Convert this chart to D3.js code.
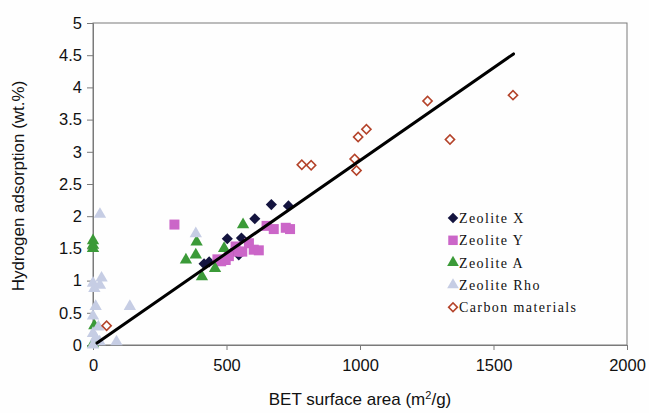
<!DOCTYPE html>
<html>
<head>
<meta charset="utf-8">
<script src="https://cdn.jsdelivr.net/npm/d3@7"></script>
<style>
  body { margin: 0; background: #fefefe; }
  svg { display: block; }
</style>
</head>
<body>
<div id="chart"></div>
<script>
const canvas = { w: 649, h: 413 };
const plot = { left: 93, right: 627, top: 23, bottom: 345 };

// BET surface area (m2/g), hydrogen adsorption (wt.%)
const zeoliteX = [[416, 1.26], [435, 1.29], [503, 1.65], [516, 1.42], [546, 1.40],
  [556, 1.66], [606, 1.96], [668, 2.18], [732, 2.16]];
const zeoliteY = [[305, 1.87], [466, 1.33], [480, 1.30], [497, 1.32], [509, 1.38],
  [534, 1.53], [545, 1.45], [559, 1.45], [584, 1.58], [602, 1.48], [621, 1.47],
  [650, 1.85], [677, 1.80], [722, 1.82], [738, 1.80]];
const zeoliteA = [[0, 0.02], [5, 0.30], [0, 1.50], [0, 1.55], [0, 1.62], [348, 1.32],
  [385, 1.40], [388, 1.60], [408, 1.06], [457, 1.19], [491, 1.50], [562, 1.87]];
const zeoliteRho = [[26, 2.03], [385, 1.73], [0, 0.96], [5, 0.88], [26, 0.93], [32, 1.04],
  [10, 0.60], [138, 0.60], [0, 0.45], [20, 0.28], [10, 0.11], [0, 0.18], [25, 0.05],
  [0, 0.00], [88, 0.05]];
const carbon = [[51, 0.30], [782, 2.80], [817, 2.79], [980, 2.89], [987, 2.71],
  [993, 3.23], [1024, 3.35], [1253, 3.79], [1337, 3.19], [1573, 3.88]];
const fitLine = [[15, 0.03], [1575, 4.52]];

const xTicks = [0, 500, 1000, 1500, 2000];
const yTicks = [0, 0.5, 1, 1.5, 2, 2.5, 3, 3.5, 4, 4.5, 5];
const legendNames = ["Zeolite X", "Zeolite Y", "Zeolite A", "Zeolite Rho", "Carbon materials"];

const series = [
  { name: legendNames[0], data: zeoliteX, type: d3.symbolSquare, size: 62, rot: 45, fill: "#14143f", stroke: "none" },
  { name: legendNames[1], data: zeoliteY, type: d3.symbolSquare, size: 100, rot: 0, fill: "#cb66c8", stroke: "none" },
  { name: legendNames[2], data: zeoliteA, type: d3.symbolTriangle, size: 66, rot: 0, fill: "#3b9a38", stroke: "none" },
  { name: legendNames[3], data: zeoliteRho, type: d3.symbolTriangle, size: 66, rot: 0, fill: "#c6cde4", stroke: "none" },
  { name: legendNames[4], data: carbon, type: d3.symbolSquare, size: 42, rot: 45, fill: "#ffffff", stroke: "#b4432a" }
];

const x = d3.scaleLinear().domain([0, 2000]).range([plot.left, plot.right]);
const y = d3.scaleLinear().domain([0, 5]).range([plot.bottom, plot.top]);

const svg = d3.select("#chart")
  .append("svg")
  .attr("width", canvas.w)
  .attr("height", canvas.h)
  .attr("viewBox", `0 0 ${canvas.w} ${canvas.h}`);

svg.append("rect")
  .attr("width", canvas.w)
  .attr("height", canvas.h)
  .attr("fill", "#fefefe");

// frame
svg.append("rect")
  .attr("x", plot.left)
  .attr("y", plot.top)
  .attr("width", plot.right - plot.left)
  .attr("height", plot.bottom - plot.top)
  .attr("fill", "none")
  .attr("stroke", "#7a7a7a")
  .attr("stroke-width", 1);

const axisFont = "Liberation Sans, Arial, sans-serif";

const yAxis = svg.append("g")
  .attr("transform", `translate(${plot.left},0)`)
  .call(d3.axisLeft(y).tickValues(yTicks).tickSize(6).tickPadding(5).tickFormat(d3.format("")));
const xAxis = svg.append("g")
  .attr("transform", `translate(0,${plot.bottom})`)
  .call(d3.axisBottom(x).tickValues(xTicks).tickSize(5).tickPadding(9).tickFormat(d3.format("")));

[xAxis, yAxis].forEach(a => {
  a.select(".domain").attr("stroke", "#7a7a7a");
  a.selectAll(".tick line").attr("stroke", "#7a7a7a");
  a.selectAll(".tick text")
    .attr("fill", "#111")
    .style("font-family", axisFont)
    .style("font-size", "16.5px");
});
xAxis.selectAll(".tick line").filter(d => d === 0).remove();

// axis titles
svg.append("text")
  .attr("transform", `translate(24,${(plot.top + plot.bottom) / 2 + 2}) rotate(-90)`)
  .attr("text-anchor", "middle")
  .style("font-family", axisFont)
  .style("font-size", "17px")
  .attr("fill", "#111")
  .text("Hydrogen adsorption (wt.%)");

const xt = svg.append("text")
  .attr("x", (plot.left + plot.right) / 2)
  .attr("y", 405)
  .attr("text-anchor", "middle")
  .style("font-family", axisFont)
  .style("font-size", "17px")
  .attr("fill", "#111");
xt.append("tspan").text("BET surface area (m");
xt.append("tspan").attr("dy", -6).style("font-size", "11px").text("2");
xt.append("tspan").attr("dy", 6).text("/g)");

// points
series.forEach(s => {
  svg.append("g")
    .selectAll("path")
    .data(s.data)
    .enter()
    .append("path")
    .attr("d", d3.symbol().type(s.type).size(s.size))
    .attr("transform", d => `translate(${x(d[0])},${y(d[1])}) rotate(${s.rot})`)
    .attr("fill", s.fill)
    .attr("stroke", s.stroke)
    .attr("stroke-width", s.stroke === "none" ? 0 : 1.6);
});

// trend line
svg.append("path")
  .datum(fitLine)
  .attr("d", d3.line().x(d => x(d[0])).y(d => y(d[1])))
  .attr("stroke", "#000")
  .attr("stroke-width", 3)
  .attr("stroke-linecap", "round")
  .attr("fill", "none");

// legend
const legend = svg.append("g").attr("transform", "translate(453,218)");
const rows = legend.selectAll("g")
  .data(series)
  .enter()
  .append("g")
  .attr("transform", (d, i) => `translate(0,${i * 22.3})`);

rows.append("path")
  .attr("d", d => d3.symbol().type(d.type).size(d.size * 0.9)())
  .attr("transform", d => `rotate(${d.rot})`)
  .attr("fill", d => d.fill)
  .attr("stroke", d => d.stroke)
  .attr("stroke-width", d => d.stroke === "none" ? 0 : 1.6);

rows.append("text")
  .attr("x", 6)
  .attr("y", 5)
  .style("font-family", "Liberation Serif, Times New Roman, serif")
  .style("font-size", "14px")
  .style("letter-spacing", "1.4px")
  .attr("fill", "#111")
  .text(d => d.name);
</script>
</body>
</html>
